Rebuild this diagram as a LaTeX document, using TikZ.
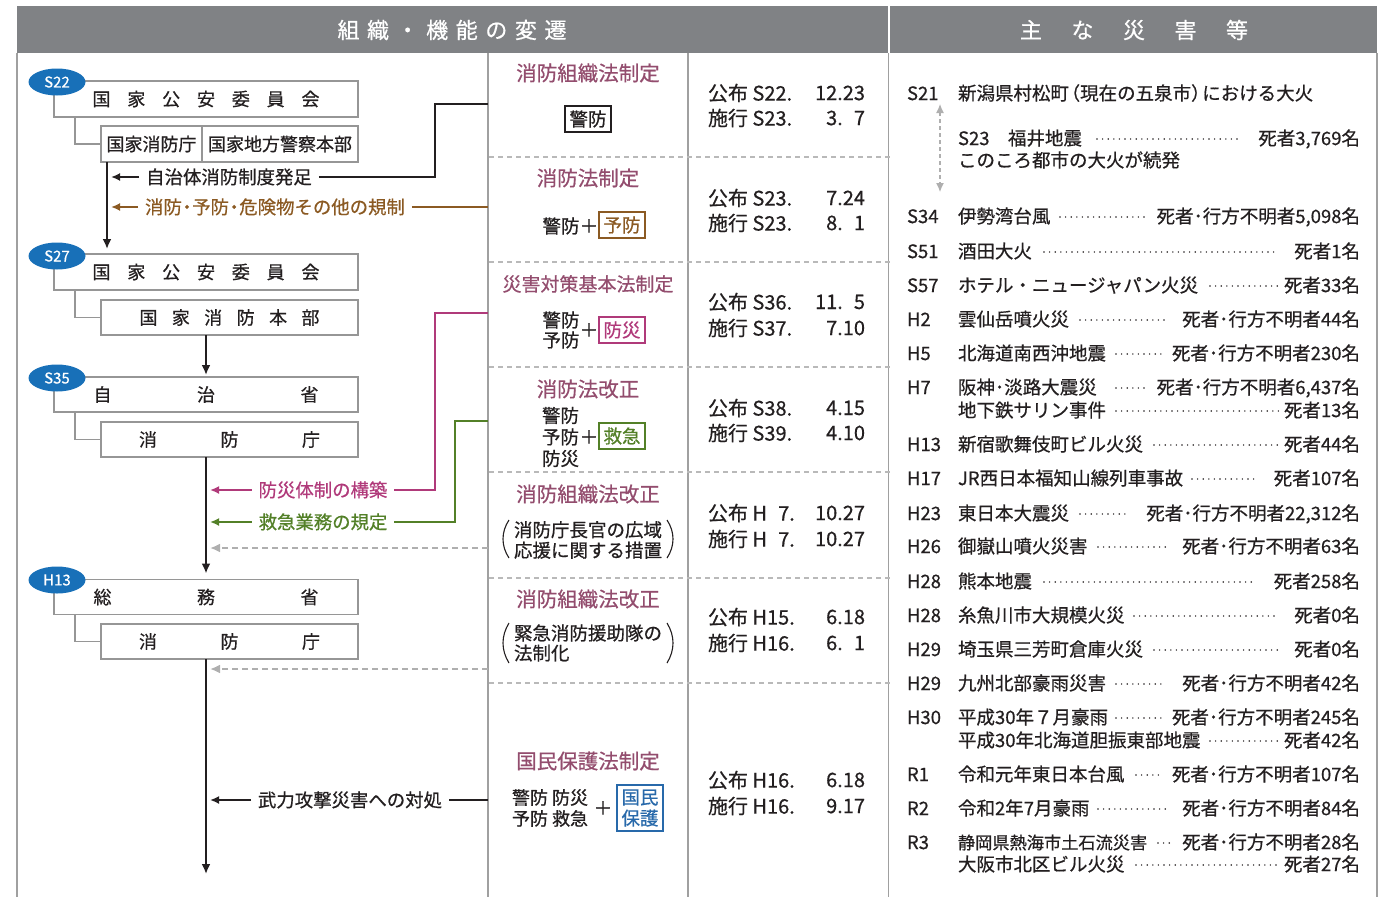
\documentclass[tikz,border=0pt]{standalone}
\usepackage{fontspec}
\setmainfont{Noto Sans CJK JP}[FakeBold=0.6]
\usetikzlibrary{arrows.meta,shapes.geometric}
\definecolor{hdr}{RGB}{128,130,133}
\definecolor{ink}{RGB}{35,31,32}
\definecolor{framegray}{RGB}{160,160,160}
\definecolor{boxgray}{RGB}{150,150,150}
\definecolor{dashgray}{RGB}{185,185,185}
\definecolor{arrgray}{RGB}{175,175,175}
\definecolor{yrblue}{RGB}{24,112,184}
\definecolor{mauve}{RGB}{147,77,110}
\definecolor{brn}{RGB}{139,90,35}
\definecolor{mag}{RGB}{176,58,122}
\definecolor{grn}{RGB}{83,128,40}
\definecolor{bluebox}{RGB}{40,105,170}
\newcommand\disrow[7]{%
  \node[rt, anchor=west] (#1y) at (907,#2) {#3};
  \node[rt, anchor=west] (#1n) at (958,#2) {#4};
  \draw[leader] (#5,{#2+1}) -- (#6,{#2+1});
  \node[rt, anchor=east] (#1c) at (1360,#2) {#7};}
\begin{document}
\begin{tikzpicture}[x=1pt,y=-1pt,
  every node/.style={inner sep=0pt, outer sep=0pt, text=ink},
  hdrtxt/.style={text=white, font=\fontsize{22}{24}\selectfont},
  orgbox/.style={draw=boxgray, line width=1.3pt, minimum height=36pt, font=\fontsize{18}{20}\selectfont},
  yr/.style={ellipse, fill=yrblue, text=white, minimum width=57pt, minimum height=27pt, font=\fontsize{15}{16}\selectfont},
  lbl/.style={font=\fontsize{18.4}{20}\selectfont, inner xsep=7pt, text height=16pt, text depth=2.2pt},
  trunk/.style={ink, line width=2.2pt, -{Latex[length=10pt,width=9pt]}},
  larr/.style={line width=2pt, -{Latex[length=9pt,width=8pt]}},
  lline/.style={line width=2pt},
  garr/.style={arrgray, line width=2pt, dash pattern=on 6pt off 4pt, -{Latex[length=10pt,width=9pt]}},
  sep/.style={dashgray, line width=1.3pt, dash pattern=on 5pt off 4pt},
  frame/.style={framegray, line width=1.8pt},
  ttl/.style={text=mauve, font=\fontsize{20.5}{22}\selectfont},
  sub/.style={font=\fontsize{18.5}{21}\selectfont},
  kbox/.style={draw, line width=1.2pt, minimum width=46pt, minimum height=26pt, font=\fontsize{18.5}{21}\selectfont},
  dt/.style={font=\fontsize{20}{22}\selectfont},
  rt/.style={font=\fontsize{18.5}{20}\selectfont, text height=16.3pt, text depth=2.2pt},
  leader/.style={ink, line width=1.6pt, line cap=round, dash pattern=on 0pt off 5.6pt},
  paren/.style={ink, line width=1.1pt}
]
\useasboundingbox (0,0) rectangle (1379,897);
% header
\fill[hdr] (17,6) rectangle (887.5,53);
\fill[hdr] (889.5,6) rectangle (1377,53);
\node[hdrtxt] (h1) at (452,30) {\hbox to 229pt{組\hfil 織\hfil ・\hfil 機\hfil 能\hfil の\hfil 変\hfil 遷}};
\node[hdrtxt] (h2) at (1134,30) {\hbox to 228pt{主\hfil な\hfil 災\hfil 害\hfil 等}};
% frame
\draw[frame] (17,53) -- (17,897);
\draw[frame] (488,53) -- (488,897);
\draw[frame] (688,53) -- (688,897);
\draw[frame] (888.5,53) -- (888.5,897);
\draw[frame] (1377,53) -- (1377,897);
\foreach \yy in {157,262,367,472,578,683} \draw[sep] (489,\yy) -- (893,\yy);

% ---------- left column ----------
\node[orgbox, minimum width=304pt] (b1) at (206,99) {\hbox to 227pt{国\hfil 家\hfil 公\hfil 安\hfil 委\hfil 員\hfil 会}};
\node[orgbox, minimum width=101pt] (b2a) at (151.5,144) {国家消防庁};
\node[orgbox, minimum width=156pt] (b2b) at (280,144) {国家地方警察本部};
\node[yr] (y1) at (57,82) {S22};
\draw[boxgray, line width=1.3pt] ([xshift=21pt]b1.south west) |- (b2a.west);

\node[orgbox, minimum width=304pt] (b3) at (206,272) {\hbox to 227pt{国\hfil 家\hfil 公\hfil 安\hfil 委\hfil 員\hfil 会}};
\node[orgbox, minimum width=257pt, minimum height=35pt] (b4) at (229.5,317.5) {\hbox to 180pt{国\hfil 家\hfil 消\hfil 防\hfil 本\hfil 部}};
\node[yr] (y2) at (57,256) {S27};
\draw[boxgray, line width=1.3pt] ([xshift=21pt]b3.south west) |- (b4.west);

\node[orgbox, minimum width=304pt, minimum height=35pt] (b5) at (206,394.5) {\hbox to 225pt{自\hfil 治\hfil 省}};
\node[orgbox, minimum width=257pt, minimum height=35pt] (b6) at (229.5,439.5) {\hbox to 181pt{消\hfil 防\hfil 庁}};
\node[yr] (y3) at (57,378) {S35};
\draw[boxgray, line width=1.3pt] ([xshift=21pt]b5.south west) |- (b6.west);

\node[orgbox, minimum width=304pt, minimum height=35pt] (b7) at (206,597) {\hbox to 225pt{総\hfil 務\hfil 省}};
\node[orgbox, minimum width=257pt, minimum height=35pt] (b8) at (229.5,641.5) {\hbox to 181pt{消\hfil 防\hfil 庁}};
\node[yr] (y4) at (57,580) {H13};
\draw[boxgray, line width=1.3pt] ([xshift=21pt]b7.south west) |- (b8.west);

% trunks
\coordinate (bend) at (206,874);
\draw[trunk] ([xshift=6pt]b2a.south west) -- ([xshift=53pt,yshift=5pt]b3.north west);
\draw[trunk] (b4.south -| b5.north) -- ([yshift=2pt]b5.north);
\draw[trunk] (b6.south -| b7.north) -- ([yshift=6pt]b7.north);
\draw[trunk] (b8.south -| b7.north) -- (bend);

% coordinates on trunk and dividers
\coordinate (t1) at (111,177); \coordinate (t2) at (111,207);
\coordinate (t3) at (210,490); \coordinate (t4) at (210,522);
\coordinate (t5) at (210,548); \coordinate (t6) at (210,669);
\coordinate (t7) at (210,800);
\coordinate (d1) at (488,104); \coordinate (d2) at (488,207);
\coordinate (d3) at (488,313); \coordinate (d4) at (488,421);
\coordinate (d5) at (488,548); \coordinate (d6) at (488,669);
\coordinate (d7) at (488,800);

\node[lbl] (l1) at (229,177) {自治体消防制度発足};
\node[lbl, text=brn] (l2) at (275,207) {消防\hspace{-0.22em}・\hspace{-0.22em}予防\hspace{-0.22em}・\hspace{-0.22em}危険物その他の規制};
\node[lbl, text=mag] (l3) at (323,490) {防災体制の構築};
\node[lbl, text=grn] (l4) at (323,522) {救急業務の規定};
\node[lbl] (l7) at (350,800) {武力攻撃災害への対処};

\draw[larr, ink] (l1) -- (t1);
\draw[lline, ink] (l1.east) -| ([xshift=-53pt]d1) -- (d1);
\draw[larr, brn] (l2) -- (t2);
\draw[lline, brn] (l2.east) -- (d2);
\draw[larr, mag] (l3) -- (t3);
\draw[lline, mag] (l3.east) -| ([xshift=-53pt]d3) -- (d3);
\draw[larr, grn] (l4) -- (t4);
\draw[lline, grn] (l4.east) -| ([xshift=-33pt]d4) -- (d4);
\draw[garr] (d5) -- (t5);
\draw[garr] (d6) -- (t6);
\draw[larr, ink] (l7) -- (t7);
\draw[lline, ink] (l7.east) -- (d7);

% ---------- middle column ----------
\node[ttl] (m1t) at (588,73) {消防組織法制定};
\node[kbox, draw=ink] (m1b) at (588,119) {警防};

\node[ttl] (m2t) at (588,178) {消防法制定};
\node[sub] (m2a) at (561,226) {警防};
\node[sub] (m2p) at (589,226) {＋};
\node[kbox, draw=brn, text=brn] (m2b) at (622,225) {予防};

\node[ttl, font=\fontsize{19}{21}\selectfont] (m3t) at (588,284) {災害対策基本法制定};
\node[sub, align=center, font=\fontsize{18.5}{20}\selectfont] (m3a) at (561,330) {警防\\予防};
\node[sub] (m3p) at (589,330) {＋};
\node[kbox, draw=mag, text=mag] (m3b) at (622,330) {防災};

\node[ttl] (m4t) at (588,389) {消防法改正};
\node[sub, align=left, anchor=west, font=\fontsize{18.5}{21.5}\selectfont] (m4a) at (542,437) {警防\\予防\\防災};
\node[sub] (m4p) at (589,437) {＋};
\node[kbox, draw=grn, text=grn] (m4b) at (622,436) {救急};

\node[ttl] (m5t) at (588,494) {消防組織法改正};
\node[sub, align=left, font=\fontsize{18.5}{20.5}\selectfont] (m5a) at (588,540) {消防庁長官の広域\\応援に関する措置};
\draw[paren] (509,520) .. controls (501,532) and (501,546) .. (509,558);
\draw[paren] (667,520) .. controls (675,532) and (675,546) .. (667,558);

\node[ttl] (m6t) at (588,599) {消防組織法改正};
\node[sub, align=left, anchor=west, font=\fontsize{18.5}{20}\selectfont] (m6a) at (514,643) {緊急消防援助隊の\\法制化};
\draw[paren] (509,623) .. controls (501,636) and (501,650) .. (509,663);
\draw[paren] (667,623) .. controls (675,636) and (675,650) .. (667,663);

\node[ttl] (m7t) at (588,761) {国民保護法制定};
\node[sub, align=left, anchor=west, font=\fontsize{18}{21}\selectfont] (m7a) at (512,808) {警防 防災\\予防 救急};
\node[sub] (m7p) at (603,808) {＋};
\node[kbox, draw=bluebox, text=bluebox, align=center, minimum height=46pt, font=\fontsize{18.5}{21}\selectfont] (m7b) at (640,808) {国民\\保護};

% dates
\node[dt, anchor=west] (p1a) at (708,93) {公布 S22.};  \node[dt, anchor=east] (p1b) at (865,93) {12.23};
\node[dt, anchor=west] (p1c) at (708,118) {施行 S23.}; \node[dt, anchor=east] (p1d) at (865,118) {3.\hphantom{0}7};
\node[dt, anchor=west] (p2a) at (708,198) {公布 S23.}; \node[dt, anchor=east] (p2b) at (865,198) {7.24};
\node[dt, anchor=west] (p2c) at (708,223) {施行 S23.}; \node[dt, anchor=east] (p2d) at (865,223) {8.\hphantom{0}1};
\node[dt, anchor=west] (p3a) at (708,302) {公布 S36.}; \node[dt, anchor=east] (p3b) at (865,302) {11.\hphantom{0}5};
\node[dt, anchor=west] (p3c) at (708,328) {施行 S37.}; \node[dt, anchor=east] (p3d) at (865,328) {7.10};
\node[dt, anchor=west] (p4a) at (708,408) {公布 S38.}; \node[dt, anchor=east] (p4b) at (865,408) {4.15};
\node[dt, anchor=west] (p4c) at (708,433) {施行 S39.}; \node[dt, anchor=east] (p4d) at (865,433) {4.10};
\node[dt, anchor=west] (p5a) at (708,513) {公布 H\hphantom{1}7.}; \node[dt, anchor=east] (p5b) at (865,513) {10.27};
\node[dt, anchor=west] (p5c) at (708,539) {施行 H\hphantom{1}7.}; \node[dt, anchor=east] (p5d) at (865,539) {10.27};
\node[dt, anchor=west] (p6a) at (708,617) {公布 H15.}; \node[dt, anchor=east] (p6b) at (865,617) {6.18};
\node[dt, anchor=west] (p6c) at (708,643) {施行 H16.}; \node[dt, anchor=east] (p6d) at (865,643) {6.\hphantom{0}1};
\node[dt, anchor=west] (p7a) at (708,780) {公布 H16.}; \node[dt, anchor=east] (p7b) at (865,780) {6.18};
\node[dt, anchor=west] (p7c) at (708,806) {施行 H16.}; \node[dt, anchor=east] (p7d) at (865,806) {9.17};

% ---------- right column ----------
\node[rt, anchor=west] (r0y) at (907,93) {S21};
\node[rt, anchor=west] (r0n) at (958,93) {新潟県村松町\hspace{-0.4em}（現在の五泉市）\hspace{-0.4em}における大火};
\coordinate (ga1) at (940,104); \coordinate (ga2) at (940,192);
\draw[arrgray, line width=1.2pt, dash pattern=on 4pt off 3pt, {Latex[length=9pt,width=8pt]}-{Latex[length=9pt,width=8pt]}] (ga1) -- (ga2);
\node[rt, anchor=west] (rsy) at (958,138) {S23};
\node[rt, anchor=west] (rsn) at (1008,138) {福井地震};
\draw[leader] (1097,139) -- (1240,139);
\node[rt, anchor=east] (rsc) at (1360,138) {死者3,769名};
\node[rt, anchor=west] (rsm) at (958,160) {このころ都市の大火が続発};

\disrow{ra}{216}{S34}{伊勢湾台風}{1060}{1148}{死者･行方不明者5,098名}
\disrow{rb}{251}{S51}{酒田大火}{1044}{1275}{死者1名}
\disrow{rc}{285}{S57}{ホテル・ニュージャパン火災}{1210}{1280}{死者33名}
\disrow{rd}{319}{H2}{雲仙岳噴火災}{1080}{1166}{死者･行方不明者44名}
\disrow{re}{353}{H5}{北海道南西沖地震}{1116}{1164}{死者･行方不明者230名}
\disrow{rf}{387}{H7}{阪神･淡路大震災}{1116}{1148}{死者･行方不明者6,437名}
\disrow{rg}{410}{}{地下鉄サリン事件}{1116}{1280}{死者13名}
\disrow{rh}{444}{H13}{新宿歌舞伎町ビル火災}{1154}{1280}{死者44名}
\disrow{ri}{478}{H17}{JR西日本福知山線列車事故}{1192}{1256}{死者107名}
\disrow{rj}{513}{H23}{東日本大震災}{1080}{1128}{死者･行方不明者22,312名}
\disrow{rk}{546}{H26}{御嶽山噴火災害}{1098}{1166}{死者･行方不明者63名}
\disrow{rl}{581}{H28}{熊本地震}{1044}{1256}{死者258名}
\disrow{rm}{615}{H28}{糸魚川市大規模火災}{1134}{1278}{死者0名}
\disrow{rn}{649}{H29}{埼玉県三芳町倉庫火災}{1154}{1278}{死者0名}
\disrow{ro}{683}{H29}{九州北部豪雨災害}{1116}{1164}{死者･行方不明者42名}
\disrow{rp}{717}{H30}{平成30年７月豪雨}{1116}{1164}{死者･行方不明者245名}
\disrow{rq}{740}{}{平成30年北海道胆振東部地震}{1210}{1280}{死者42名}
\disrow{rr}{774}{R1}{令和元年東日本台風}{1136}{1164}{死者･行方不明者107名}
\disrow{rs}{808}{R2}{令和2年7月豪雨}{1098}{1166}{死者･行方不明者84名}
\disrow{rt}{842}{R3}{\fontsize{17.2}{20}\selectfont 静岡県熱海市土石流災害}{1158}{1172}{死者･行方不明者28名}
\disrow{ru}{864}{}{大阪市北区ビル火災}{1136}{1280}{死者27名}
\end{tikzpicture}
\end{document}
